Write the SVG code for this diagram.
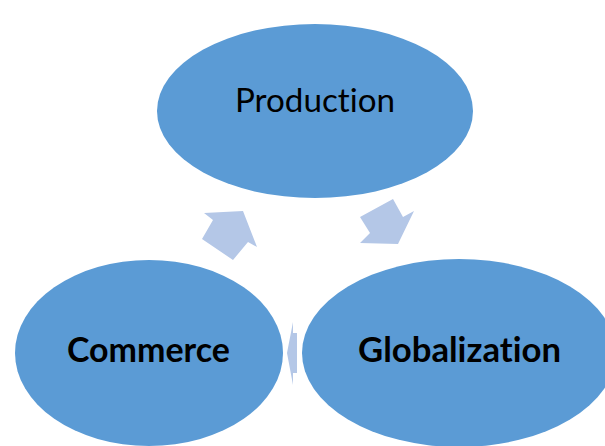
<svg xmlns="http://www.w3.org/2000/svg" width="605" height="446" viewBox="0 0 605 446">
<style>
.node{fill:#5B9BD5}
.arrow{fill:#B4C7E7}
.lbl{font-family:Lato,"Open Sans","Liberation Sans",sans-serif;font-size:33px;fill:#000;text-anchor:middle;font-variant-ligatures:none}
.b{font-weight:bold;font-size:33.5px}
</style>
<rect width="605" height="446" fill="#fff"/>
<g id="connectors">
<polygon class="arrow" points="213,220 204,213 243,211 257,247 248,242 233,260 202,239"/>
<polygon class="arrow" points="360,217 393,199 403,217 414,211 398,244 360,243 370,233"/>
<polygon class="arrow" points="293,322 293,333 297,333 297,373 293,373 293,385 287,353"/>
</g>
<g id="production">
<ellipse class="node" cx="315" cy="111" rx="158" ry="87"/>
<text class="lbl" x="315" y="112" textLength="160" lengthAdjust="spacingAndGlyphs">Production</text>
</g>
<g id="commerce">
<ellipse class="node" cx="149" cy="353" rx="134" ry="93"/>
<text class="lbl b" x="148.5" y="362" textLength="163" lengthAdjust="spacingAndGlyphs">Commerce</text>
</g>
<g id="globalization">
<ellipse class="node" cx="459" cy="353" rx="157" ry="94"/>
<text class="lbl b" x="459.5" y="362" textLength="203" lengthAdjust="spacingAndGlyphs">Globalization</text>
</g>
</svg>
